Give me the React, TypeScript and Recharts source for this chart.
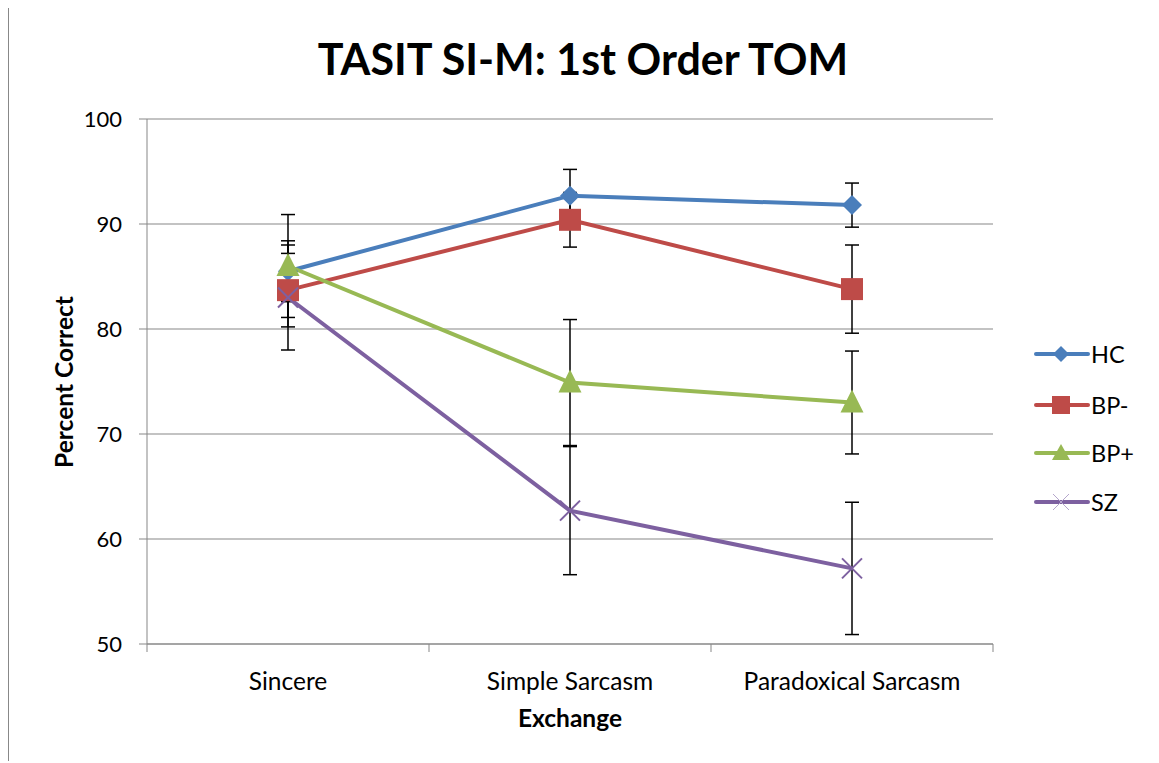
import React from "react";
import { LineChart, Line, XAxis, YAxis, CartesianGrid, ErrorBar } from "recharts";

const categories = ["Sincere", "Simple Sarcasm", "Paradoxical Sarcasm"];
const hc = [85.5, 92.7, 91.8];
const hcErr = [2.9, 2.5, 2.1];
const bpMinus = [83.7, 90.4, 83.8];
const bpMinusErr = [3.5, 2.6, 4.2];
const bpPlus = [86.0, 74.9, 73.0];
const bpPlusErr = [4.9, 6.0, 4.9];
const sz = [83.0, 62.7, 57.2];
const szErr = [5.0, 6.1, 6.3];
const yTicks = [50, 60, 70, 80, 90, 100];

const seriesNames = ["HC", "BP-", "BP+", "SZ"];
const colors = { HC: "#4A7EBB", "BP-": "#BE4B48", "BP+": "#98B954", SZ: "#7D60A0" };

const data = categories.map((c, i) => ({
  idx: i,
  name: c,
  hc: hc[i],
  hcErr: hcErr[i],
  bpMinus: bpMinus[i],
  bpMinusErr: bpMinusErr[i],
  bpPlus: bpPlus[i],
  bpPlusErr: bpPlusErr[i],
  sz: sz[i],
  szErr: szErr[i],
}));
const xTicks = categories.map((_, i) => i);

const FONT = "Lato, 'Open Sans', sans-serif";
const GRID = "#878787";

const W = 1151;
const H = 755;
const M = { top: 111, right: 166, bottom: 59, left: 79 };
const YAXIS_W = 60;
const PLOT_W = W - M.left - M.right - YAXIS_W;
const BAND = PLOT_W / categories.length;

const Diamond = (props: any) => {
  const { cx, cy } = props;
  if (cx == null || cy == null) return null;
  const r = 10;
  return <polygon points={`${cx},${cy - r} ${cx + r},${cy} ${cx},${cy + r} ${cx - r},${cy}`} fill={colors.HC} />;
};
const Square = (props: any) => {
  const { cx, cy } = props;
  if (cx == null || cy == null) return null;
  const s = 22;
  return <rect x={cx - s / 2} y={cy - s / 2} width={s} height={s} fill={colors["BP-"]} />;
};
const Triangle = (props: any) => {
  const { cx, cy } = props;
  if (cx == null || cy == null) return null;
  return <polygon points={`${cx},${cy - 13} ${cx + 11.5},${cy + 10} ${cx - 11.5},${cy + 10}`} fill={colors["BP+"]} />;
};
const Cross = (props: any) => {
  const { cx, cy } = props;
  if (cx == null || cy == null) return null;
  const r = 10;
  return (
    <g stroke={colors.SZ} strokeWidth={2}>
      <line x1={cx - r} y1={cy - r} x2={cx + r} y2={cy + r} />
      <line x1={cx - r} y1={cy + r} x2={cx + r} y2={cy - r} />
    </g>
  );
};

const XTick = (props: any) => {
  const { x, y, payload, index } = props;
  const last = index === categories.length - 1;
  const label = categories[Math.round(payload.value)] ?? "";
  return (
    <g>
      <line x1={x - BAND / 2} y1={y} x2={x - BAND / 2} y2={y + 8} stroke={GRID} strokeWidth={1} />
      {last && <line x1={x + BAND / 2} y1={y} x2={x + BAND / 2} y2={y + 8} stroke={GRID} strokeWidth={1} />}
      <text x={x} y={y + 46} textAnchor="middle" fontFamily={FONT} fontSize={24.5} fill="#000">
        {label}
      </text>
    </g>
  );
};

const LegendMarker = ({ name }: { name: string }) => {
  const c = (colors as any)[name];
  const cx = 27;
  const cy = 10;
  let marker: any = null;
  if (name === "HC") marker = <polygon points={`${cx},${cy - 8} ${cx + 8},${cy} ${cx},${cy + 8} ${cx - 8},${cy}`} fill={c} />;
  if (name === "BP-") marker = <rect x={cx - 9} y={cy - 9} width={18} height={18} fill={c} />;
  if (name === "BP+") marker = <polygon points={`${cx},${cy - 9} ${cx + 9},${cy + 7} ${cx - 9},${cy + 7}`} fill={c} />;
  if (name === "SZ")
    marker = (
      <g stroke="#B5A6CC" strokeWidth={1}>
        <line x1={cx - 8} y1={cy - 8} x2={cx + 8} y2={cy + 8} />
        <line x1={cx - 8} y1={cy + 8} x2={cx + 8} y2={cy - 8} />
      </g>
    );
  return (
    <svg width={56} height={20} style={{ display: "block" }}>
      <line x1={2} y1={cy} x2={54} y2={cy} stroke={c} strokeWidth={4} strokeLinecap="round" />
      {marker}
    </svg>
  );
};

export default function App() {
  return (
    <div style={{ position: "relative", width: 1151, height: 755, marginTop: -2, marginLeft: -1 }}>
      <div
        style={{
          position: "absolute",
          left: 0,
          top: 0,
          width: 1300,
          height: 900,
          borderLeft: "2px solid #888",
          borderTop: "2px solid #888",
          boxSizing: "border-box",
        }}
      />
      <div
        style={{
          position: "absolute",
          left: 0,
          top: 27,
          width: 1152,
          textAlign: "center",
          fontFamily: FONT,
          fontWeight: 700,
          fontSize: 43,
          color: "#000",
          lineHeight: "52px",
        }}
      >
        TASIT SI-M: 1st Order TOM
      </div>
      <div style={{ position: "absolute", left: 1, top: 2 }}>
        <LineChart width={W} height={H} data={data} margin={M}>
          <CartesianGrid horizontal={true} vertical={false} stroke={GRID} strokeWidth={1} />
          <XAxis
            dataKey="idx"
            type="number"
            scale="linear"
            domain={[-0.5, 2.5]}
            allowDataOverflow={true}
            ticks={xTicks}
            axisLine={{ stroke: GRID, strokeWidth: 1 }}
            tickLine={false}
            tickSize={0}
            tickMargin={0}
            height={60}
            tick={<XTick />}
          />
          <YAxis
            domain={[50, 100]}
            allowDataOverflow={true}
            ticks={yTicks}
            width={YAXIS_W}
            axisLine={{ stroke: GRID, strokeWidth: 1 }}
            tickLine={{ stroke: GRID, strokeWidth: 1 }}
            tickSize={8}
            tickMargin={17}
            tick={{ fontFamily: FONT, fontSize: 22, fill: "#000" }}
            interval={0}
          />
          <Line dataKey="hc" stroke={colors.HC} strokeWidth={4} dot={<Diamond />} activeDot={false} isAnimationActive={false}>
            <ErrorBar dataKey="hcErr" width={7} stroke="#000" strokeWidth={1.5} direction="y" />
          </Line>
          <Line dataKey="bpMinus" stroke={colors["BP-"]} strokeWidth={4} dot={<Square />} activeDot={false} isAnimationActive={false}>
            <ErrorBar dataKey="bpMinusErr" width={7} stroke="#000" strokeWidth={1.5} direction="y" />
          </Line>
          <Line dataKey="bpPlus" stroke={colors["BP+"]} strokeWidth={4} dot={<Triangle />} activeDot={false} isAnimationActive={false}>
            <ErrorBar dataKey="bpPlusErr" width={7} stroke="#000" strokeWidth={1.5} direction="y" />
          </Line>
          <Line dataKey="sz" stroke={colors.SZ} strokeWidth={4} dot={<Cross />} activeDot={false} isAnimationActive={false}>
            <ErrorBar dataKey="szErr" width={7} stroke="#000" strokeWidth={1.5} direction="y" />
          </Line>
        </LineChart>
      </div>
      <div style={{ position: "absolute", left: 1027, top: 0, width: 200, fontFamily: FONT }}>
        {seriesNames.map((n, i) => (
          <div
            key={n}
            style={{
              position: "absolute",
              left: 0,
              top: [344, 395, 443, 492][i] - 8 + 2,
              display: "flex",
              alignItems: "center",
              height: 20,
            }}
          >
            <LegendMarker name={n} />
            <span style={{ fontSize: 23.5, marginLeft: 1, color: "#000" }}>{n}</span>
          </div>
        ))}
      </div>
      <div
        style={{
          position: "absolute",
          left: 63 - 8 + 1,
          top: 382 - 8 + 2,
          transform: "translate(-50%, -50%) rotate(-90deg)",
          transformOrigin: "center",
          fontFamily: FONT,
          fontWeight: 700,
          fontSize: 24.5,
          whiteSpace: "nowrap",
        }}
      >
        Percent Correct
      </div>
      <div
        style={{
          position: "absolute",
          left: 570 - 8 - 100 + 1,
          width: 200,
          top: 703 - 8 + 2,
          textAlign: "center",
          fontFamily: FONT,
          fontWeight: 700,
          fontSize: 24.5,
        }}
      >
        Exchange
      </div>
    </div>
  );
}
